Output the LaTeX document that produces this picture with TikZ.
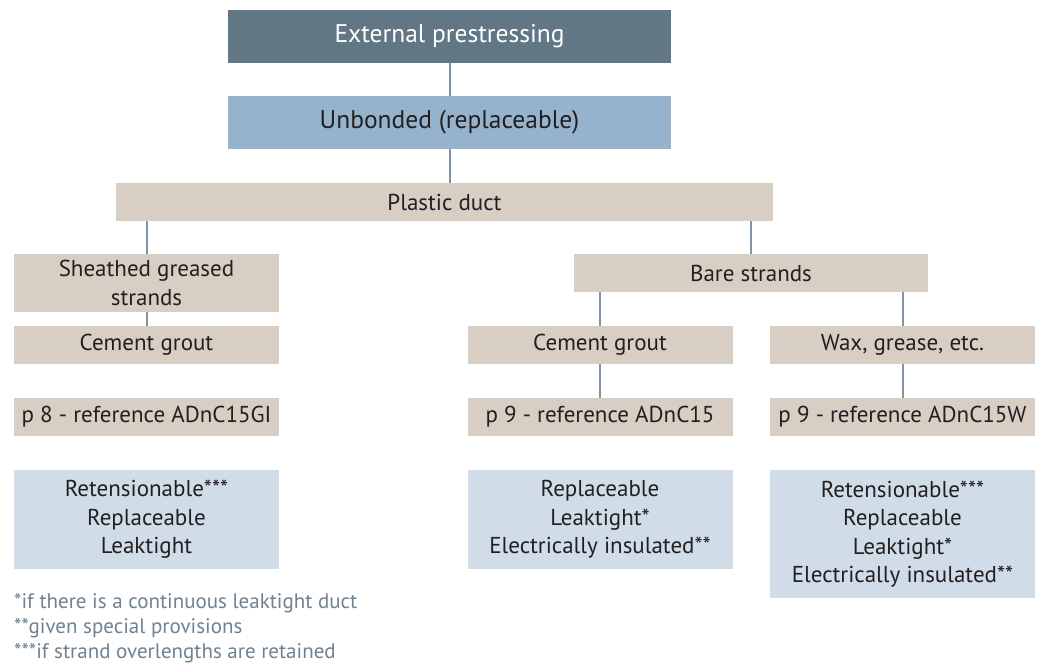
\documentclass[tikz,border=0pt]{standalone}
\usepackage{fontspec}
\setmainfont{PT Sans}
\usepackage{xcolor}
\usepackage{tikz}
\usetikzlibrary{positioning}
\definecolor{topgray}{HTML}{627785}
\definecolor{midblue}{HTML}{96B3CD}
\definecolor{beige}{HTML}{D8CEC4}
\definecolor{paleblue}{HTML}{D0DDE9}
\definecolor{linkgray}{HTML}{8094A6}
\definecolor{inkdark}{HTML}{231F20}
\definecolor{notegray}{HTML}{6E8290}

\begin{document}
\begin{tikzpicture}[x=1pt, y=-1pt, line join = round,
                box/.style={inner sep=0pt, align=center, text=inkdark,
                  font=\fontsize{23}{28.5}\selectfont},
                headbox/.style={box, fill=topgray, text=white, minimum width=443pt,
                  minimum height=53pt, font=\fontsize{25.5}{30}\selectfont},
                kindbox/.style={box, fill=midblue, minimum width=443pt, minimum height=53pt,
                  font=\fontsize{25.5}{30}\selectfont},
                tanbox/.style={box, fill=beige, minimum width=265pt, minimum height=38pt},
                propbox/.style={box, fill=paleblue, minimum width=265pt},
                link/.style={draw=linkgray, line width=2pt},
                note/.style={inner sep=0pt, anchor=west, align=left, text=notegray,
                  font=\fontsize{21}{25}\selectfont}]
                \useasboundingbox (0,0) rectangle (1040,671);
                % top of the tree
                \node[headbox] (ext) at (449.5,36.5) {External prestressing};
                \node[kindbox] (unb) at (449.5,122.5) {Unbonded (replaceable)};
                \node[tanbox, minimum width=657pt] (duct) at (444.5,202) {Plastic duct};
                % left branch
                \node[tanbox, minimum height=58pt] (sheath) at (146.5,283) {Sheathed greased\\strands};
                \node[tanbox] (groutL) at (146.5,345) {Cement grout};
                \node[tanbox] (refL) at (146.5,417) {p 8 - reference ADnC15GI};
                \node[propbox, minimum height=99pt] (propL) at (146.5,519.5) {Retensionable***\\Replaceable\\Leaktight};
                % right branch
                \node[tanbox, minimum width=354pt] (bare) at (751,273) {Bare strands};
                \node[tanbox] (groutM) at (600,345) {Cement grout};
                \node[tanbox] (wax) at (902.5,345) {Wax, grease, etc.};
                \node[tanbox] (refM) at (600,417) {p 9 - reference ADnC15};
                \node[tanbox] (refR) at (902.5,417) {p 9 - reference ADnC15W};
                \node[propbox, minimum height=99pt] (propM) at (600,519.5) {Replaceable\\Leaktight*\\Electrically insulated**};
                \node[propbox, minimum height=128pt] (propR) at (902.5,534) {Retensionable***\\Replaceable\\Leaktight*\\Electrically insulated**};
                % footnotes
                \node[note] (notes) at (14,628) {*if there is a continuous leaktight duct\\**given special provisions\\***if strand overlengths are retained};
                \begin{scope}[link]
                  \draw (ext) -- (unb);
                  \draw (unb.south) -- (unb.south |- duct.north);
                  \draw (sheath.north) -- (sheath.north |- duct.south);
                  \draw (bare.north) -- (bare.north |- duct.south);
                  \draw (sheath) -- (groutL);
                  \draw (groutM.north) -- (groutM.north |- bare.south);
                  \draw (wax.north) -- (wax.north |- bare.south);
                  \draw (groutM) -- (refM);
                  \draw (wax) -- (refR);
                \end{scope}
              \end{tikzpicture}
\end{document}
